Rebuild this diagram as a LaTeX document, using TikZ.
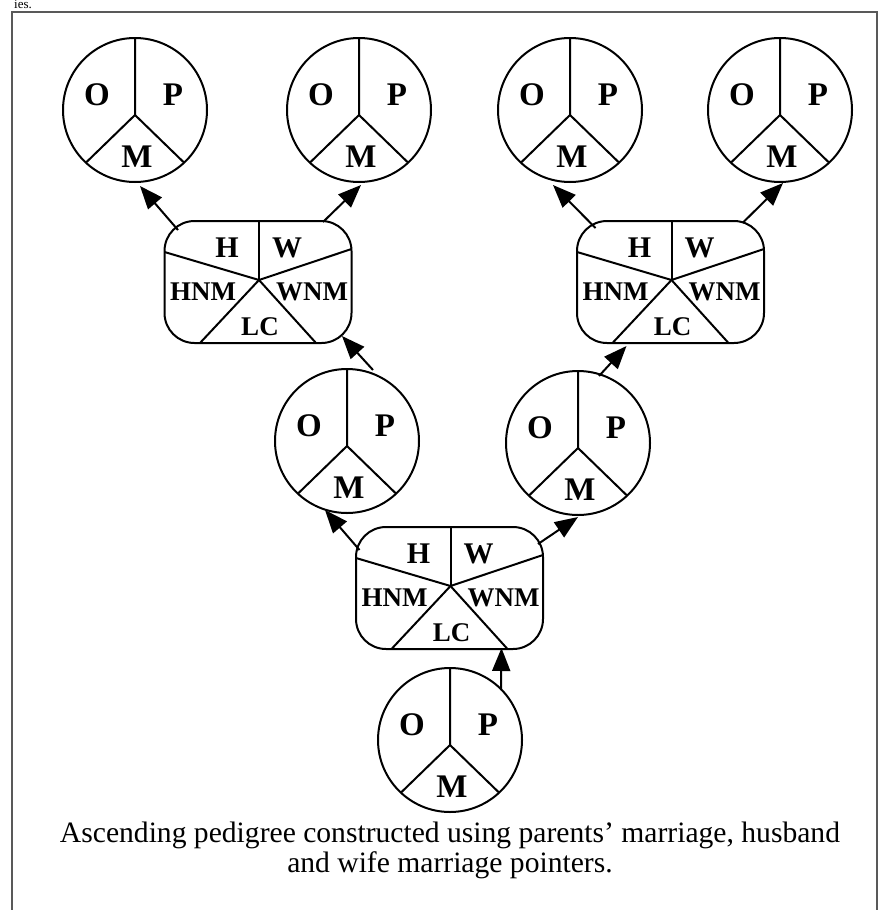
\documentclass[tikz,border=0pt]{standalone}
\usepackage{fontspec}
\setmainfont{Liberation Serif}
\usetikzlibrary{calc,arrows.meta}
\newcommand\pedcirc[3]{%
  \node[pcirc] (#1) at (#2,#3) {};
  \coordinate (#1j) at ($(#1.center)+(0,5)$);
  \draw[ln] (#1.north) -- (#1j) -- (#1.-133);
  \draw[ln] (#1j) -- (#1.-47);
  \node[plab] (#1o) at ($(#1.center)+(-38,-15)$) {O};
  \node[plab] (#1p) at ($(#1.center)+(38,-15)$) {P};
  \node[plab] (#1m) at ($(#1.center)+(2,47)$) {M};
}
\newcommand\pedbox[3]{%
  \node[mbox] (#1) at (#2,#3) {};
  \coordinate (#1j) at ($(#1.center)+(1,-2)$);
  \draw[ln] (#1j) -- (#1j |- #1.north);
  \draw[ln] (#1j) -- ($(#1.west)+(0,-30)$);
  \draw[ln] (#1j) -- ($(#1.east)+(0,-33)$);
  \draw[ln] (#1j) -- ($(#1.south)+(-58,0)$);
  \draw[ln] (#1j) -- ($(#1.south)+(58,0)$);
  \node[blab] (#1h) at ($(#1.center)+(-31,-34)$) {H};
  \node[blab] (#1w) at ($(#1.center)+(29,-34)$) {W};
  \node[slab] (#1hn) at ($(#1.center)+(-55,10)$) {HNM};
  \node[slab] (#1wn) at ($(#1.center)+(54,10)$) {WNM};
  \node[slab] (#1lc) at ($(#1.center)+(2,45)$) {LC};
}
\begin{document}
\begin{tikzpicture}[x=1pt,y=-1pt,
  ln/.style={line width=2pt},
  pcirc/.style={circle,draw,line width=2pt,minimum size=144pt,inner sep=0pt,outer sep=0pt},
  mbox/.style={rectangle,draw,line width=2pt,rounded corners=30pt,minimum width=187pt,minimum height=122pt,inner sep=0pt,outer sep=0pt},
  plab/.style={font=\fontsize{33}{33}\selectfont\bfseries,inner sep=0pt},
  blab/.style={font=\fontsize{30}{30}\selectfont\bfseries,inner sep=0pt},
  slab/.style={font=\fontsize{27}{27}\selectfont\bfseries,inner sep=0pt},
  ptr/.style={line width=2pt,-{Triangle[length=23pt,width=18pt]}},
  captxt/.style={font=\fontsize{29.6}{33}\selectfont,inner sep=0pt},
]
\useasboundingbox (0,0) rectangle (882,910);
\fill[white] (0,0) rectangle (882,910);
\draw[line width=2.5pt,black!65] (12,940) -- (12,12) -- (877,12) -- (877,940);
\node[font=\fontsize{13}{13}\selectfont,inner sep=0pt,anchor=base west] (frag) at (14,9) {ies.};

\pedcirc{c1}{135}{110}
\pedcirc{c2}{359}{110}
\pedcirc{c3}{570}{110}
\pedcirc{c4}{780}{110}
\pedcirc{c5}{347}{441}
\pedcirc{c6}{578}{443}
\pedcirc{c7}{450}{740}

\pedbox{b1}{258}{282}
\pedbox{b2}{670.5}{282}
\pedbox{b3}{449.5}{588}

\draw[ptr] ($(b1)+(-80,-52)$) -- ($(c1)+(5,76)$);
\draw[ptr] ($(b1)+(65,-60)$) -- ($(c2)+(2,75)$);
\draw[ptr] ($(b2)+(-75,-54)$) -- ($(c3)+(-17,75)$);
\draw[ptr] ($(b2)+(72,-59)$) -- ($(c4)+(3,73)$);
\draw[ptr] ($(c5)+(26,-71)$) -- ($(b1)+(84,54)$);
\draw[ptr] ($(c6)+(21,-67)$) -- ($(b2)+(-44,64)$);
\draw[ptr] ($(b3)+(-90,-38)$) -- ($(c5)+(-22,69)$);
\draw[ptr] ($(b3)+(88.5,-44)$) -- ($(c6)+(0,74)$);
\draw[ptr] ($(c7)+(51,-50)$) -- ($(b3)+(52,60)$);

\node[captxt,align=center] (cap) at (450,850) {Ascending pedigree constructed using parents’ marriage, husband\\[-3pt]and wife marriage pointers.};
\end{tikzpicture}
\end{document}
